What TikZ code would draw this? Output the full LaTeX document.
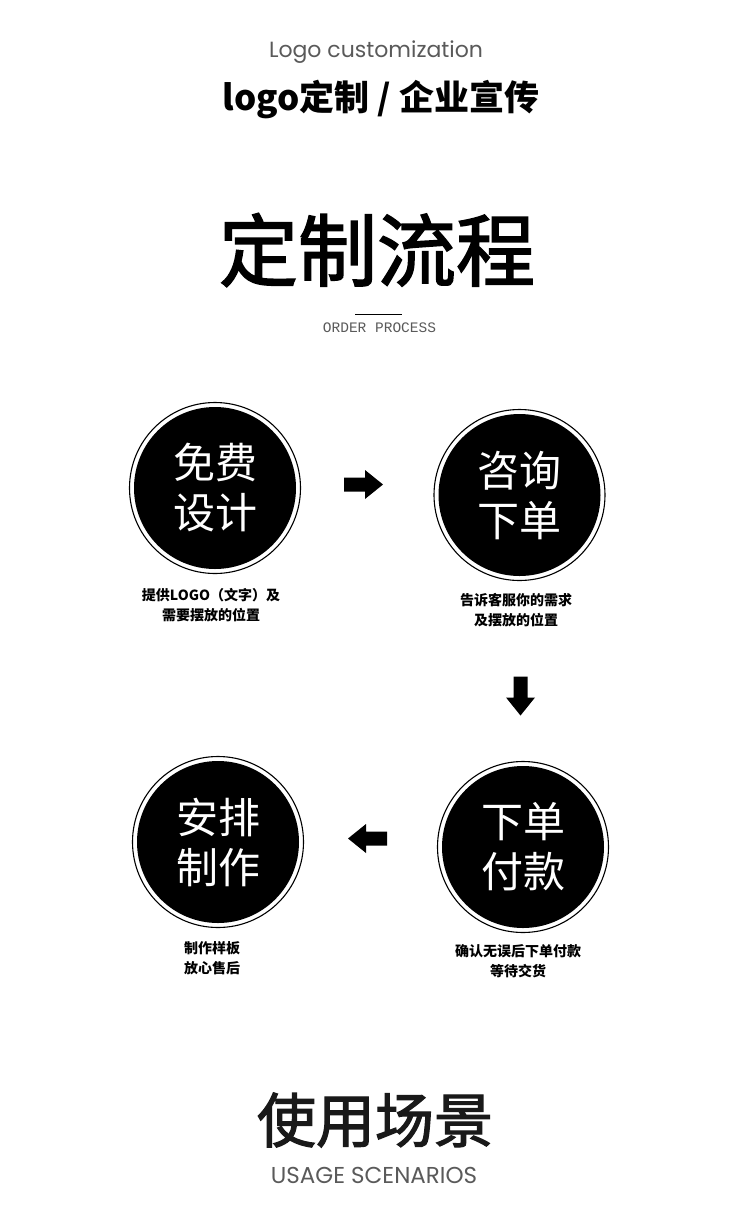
\documentclass[tikz,border=0pt]{standalone}
\usepackage{fontspec}
\newfontfamily\cjk{Noto Sans CJK SC}
\newfontfamily\cjkmed[FakeBold=2]{Noto Sans CJK SC}
\newfontfamily\pop{Poppins}
\newfontfamily\mono{Liberation Mono}
\definecolor{greytxt}{RGB}{90,90,90}
\begin{document}
\begin{tikzpicture}[x=1pt,y=-1pt,
  stepcircle/.style={circle, draw=black, line width=1.1pt, fill=white,
    minimum size=171pt, inner sep=0pt, text=white, align=center,
    font=\cjk\fontsize{42}{50}\selectfont,
    path picture={\fill[black] (path picture bounding box.center) circle[radius=81pt];}},
  caption/.style={align=center, inner sep=0pt, font=\cjk\bfseries\fontsize{14}{20}\selectfont},
  blockarrow/.pic={\fill[black] (-19.5,-7) -- (1.5,-7) -- (1.5,-14.5) -- (19.5,0) -- (1.5,14.5) -- (1.5,7) -- (-19.5,7) -- cycle;}
]
\useasboundingbox (0,0) rectangle (750,1224);
\fill[white] (0,0) rectangle (750,1224);

\node[inner sep=0pt, text=greytxt, font=\pop\fontsize{22}{26}\selectfont] (t1) at (376,52) {Logo customization};
\node[inner sep=0pt, font=\cjk\bfseries\fontsize{35}{40}\selectfont] (t2) at (381,99) {logo定制 / 企业宣传};
\node[inner sep=0pt, font=\cjkmed\fontsize{79}{84}\selectfont] (t3) at (377,250) {定制流程};
\coordinate (l1) at (355,314);
\coordinate (l2) at (402,314);
\draw[line width=1pt, black] (l1) -- (l2);
\node[inner sep=0pt, text=greytxt, font=\mono\fontsize{14.5}{16}\selectfont] (t4) at (379.5,328) {ORDER PROCESS};

\node[stepcircle] (c1) at (215,488) {免费\\设计};
\node[stepcircle] (c2) at (519.5,495) {咨询\\下单};
\node[stepcircle] (c4) at (523,847) {下单\\付款};
\node[stepcircle] (c3) at (218,842) {安排\\制作};

\node[caption] (p1) at (211,605) {提供LOGO（文字）及\\需要摆放的位置};
\node[caption] (p2) at (516,610) {告诉客服你的需求\\及摆放的位置};
\node[caption] (p4) at (518,961) {确认无误后下单付款\\等待交货};
\node[caption] (p3) at (212,958) {制作样板\\放心售后};

\pic at (363.5,484.5) {blockarrow};
\pic[rotate=-90] at (520.5,696) {blockarrow};
\pic[rotate=180] at (367.5,838.5) {blockarrow};

\node[inner sep=0pt, text=black!90, font=\cjkmed\fontsize{59}{64}\selectfont] (t5) at (375,1120) {使用场景};
\node[inner sep=0pt, text=greytxt, font=\pop\fontsize{23}{26}\selectfont] (t6) at (374,1175) {USAGE SCENARIOS};
\end{tikzpicture}
\end{document}
